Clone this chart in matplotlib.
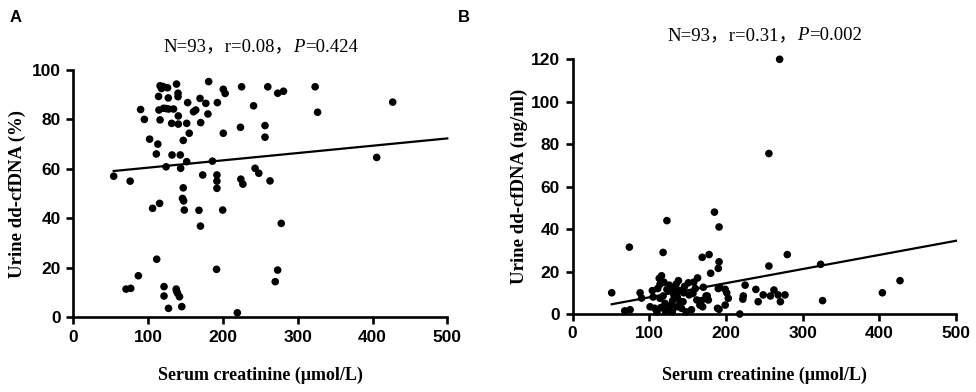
import numpy as np
import matplotlib
matplotlib.use('Agg')
import matplotlib.pyplot as plt

# ---------------- data ----------------
a_creat = [54, 76, 90, 95, 102, 111, 113,
           116, 120, 126, 114, 127, 138, 140, 140,
           114.5, 120.7, 127.4, 134, 140.4, 152.9, 160.7, 163.7, 169.4, 177.2, 181, 180, 192.6,
           116, 131.5, 140.4, 151.6, 170.3, 155, 147, 132, 143, 124, 143.5, 151.6, 186, 173, 147, 192, 192, 192,
           200.5, 203, 225, 260, 273.3, 281, 323.3, 326.6, 427, 241, 200.5, 223.5, 256.3, 256.3, 405.6, 224,
           226.7, 243, 248, 263, 199.7, 278, 191.5, 273.2, 270, 219.3,
           106, 115.4, 147.5, 148.4, 168, 170, 111.5, 87, 70.5, 76.8, 121.3, 121.3, 137.6, 139.4, 142, 127.3, 145,
           118, 124, 146, 138]
a_ddcf = [57, 55, 84, 80, 72, 66, 70,
          93.6, 93.3, 92.8, 89.3, 88.7, 94.3, 90.6, 89.2,
          83.8, 84.5, 84.2, 84.2, 81.4, 86.8, 83.1, 83.8, 88.5, 86.5, 95.3, 82.2, 86.8,
          79.8, 78.4, 78.1, 78.4, 78.7, 74.4, 71.5, 65.6, 65.6, 60.8, 60.2, 62.9, 63.1, 57.5, 52.3, 57.5, 55, 52.1,
          92.2, 90.5, 93.2, 93.2, 90.6, 91.4, 93.2, 82.9, 87, 85.5, 74.4, 76.8, 77.5, 72.8, 64.6, 55.8,
          53.8, 60.2, 58.2, 55.1, 43.3, 37.9, 19.3, 19, 14.3, 1.7,
          44, 46, 47, 43.3, 43.2, 36.8, 23.4, 16.7, 11.3, 11.6, 12.3, 8.5, 11.3, 9.6, 8.2, 3.5, 4.2,
          92.5, 84.4, 48, 10.5]

b_creat = [270, 256, 123, 185, 191, 74, 118, 169, 178, 191, 190, 180, 256,
           51, 88, 90, 68, 75, 113, 116, 114, 119, 126, 128, 123, 133.5, 140, 138, 151,
           101, 107, 120.5, 130.5, 136.5, 142, 144, 136, 114, 118, 152, 157, 162, 166,
           174, 177, 170.5, 189, 190, 280, 323.5, 326, 192, 199, 201, 203, 199, 191,
           168, 175.6, 169.6, 218, 225, 222.6, 222, 239, 242, 248.6, 258, 262.6, 268, 277, 271,
           404, 427,
           105, 110, 115, 125, 130, 132, 140, 145, 148, 155, 160, 121, 128, 135, 111, 146, 158, 104, 163]
b_ddcf = [120, 75.6, 44, 48, 41, 31.5, 29, 26.7, 28, 24.6, 21.5, 19.2, 22.6,
          10, 10, 7.5, 1.5, 2, 16.8, 18, 14, 15, 13.6, 11.3, 11.6, 12, 11, 15.7, 14.7,
          3.4, 2.7, 5, 6.3, 8, 2.7, 5.8, 3.4, 7.4, 8.5, 9, 9.7, 6.6, 4.2,
          8.5, 6.6, 12.6, 2.7, 12, 28, 23.4, 6.3, 12.6, 11.6, 10, 7.4, 4.2, 2.2,
          6.3, 8.5, 3.4, 0, 13.6, 8.5, 7, 11.6, 5.8, 9, 8.5, 11.3, 9, 9, 5.8,
          10, 15.7,
          8, 1, 3, 2, 1, 9, 6, 10, 1, 2, 12, 1.5, 4, 14, 12, 13, 15, 11, 17]

fit_a = (57.5, 0.0296)   # intercept, slope
fit_b = (1.2, 0.0666)

x_ticks = [0, 100, 200, 300, 400, 500]
y_ticks_a = [0, 20, 40, 60, 80, 100]
y_ticks_b = [0, 20, 40, 60, 80, 100, 120]

title_a = ["N=93，r=0.08，", "P", "=0.424"]
title_b = ["N=93，r=0.31，", "P", "=0.002"]
ylabel_a = "Urine dd-cfDNA (%)"
ylabel_b = "Urine dd-cfDNA (ng/ml)"
xlabel = "Serum creatinine (μmol/L)"

# ---------------- figure ----------------
W, H = 976, 392
fig = plt.figure(figsize=(W / 100, H / 100), dpi=100)

def px_axes(l, r, t, b):
    return fig.add_axes([l / W, 1 - b / H, (r - l) / W, (b - t) / H])

axA = px_axes(73.3, 447.3, 70, 317)
axB = px_axes(572.6, 956, 59.3, 314)

serif = ['Liberation Serif', 'Noto Sans CJK SC']
sans = 'Liberation Sans'

def style(ax, x, y, fit, yticks, ylab, ylx, xly):
    ax.scatter(x, y, s=30, color='black', edgecolors='none', clip_on=False, zorder=3)
    xs = np.array([min(x), 500])
    ax.plot(xs, fit[0] + fit[1] * xs, color='black', lw=1.6, clip_on=False, zorder=2)
    ax.set_xlim(0, 500)
    ax.set_ylim(yticks[0], yticks[-1])
    ax.set_xticks(x_ticks)
    ax.set_yticks(yticks)
    for s in ['top', 'right']:
        ax.spines[s].set_visible(False)
    for s in ['left', 'bottom']:
        ax.spines[s].set_linewidth(1.9)
    ax.tick_params(axis='both', length=5, width=1.9, direction='out', pad=4)
    for lab in ax.get_xticklabels() + ax.get_yticklabels():
        lab.set_fontfamily(sans)
        lab.set_fontweight('bold')
        lab.set_fontsize(12.5)
    ax.set_ylabel(ylab, family=serif, fontweight='bold', fontsize=13.5)
    ax.set_xlabel(xlabel, family=serif, fontweight='bold', fontsize=13)
    ax.yaxis.set_label_coords(ylx, 0.5)
    ax.xaxis.set_label_coords(0.5, xly)

style(axA, a_creat, a_ddcf, fit_a, y_ticks_a, ylabel_a, -0.127, -0.20)
style(axB, b_creat, b_ddcf, fit_b, y_ticks_b, ylabel_b, -0.117, -0.205)

def title(ax, parts, y_px):
    t1 = fig.text(0, 1 - y_px / H, parts[0], family=serif, fontsize=13.5, va='center', ha='left')
    t2 = fig.text(0, 0, parts[1], family=serif, style='italic', fontsize=13.5)
    t3 = fig.text(0, 0, parts[2], family=serif, fontsize=13.5)
    fig.canvas.draw()
    r = fig.canvas.get_renderer()
    b1 = t1.get_window_extent(r)
    b2 = t2.get_window_extent(r)
    b3 = t3.get_window_extent(r)
    total = b1.width + b2.width + b3.width
    pos = ax.get_position()
    cx = (pos.x0 + pos.x1) / 2 * W
    x0 = cx - total / 2
    y = 1 - y_px / H
    t1.set_position((x0 / W, y))
    t2.set_position(((x0 + b1.width) / W, y))
    t2.set_va('center')
    t3.set_position(((x0 + b1.width + b2.width) / W, y))
    t3.set_va('center')

title(axA, title_a, 47)
title(axB, title_b, 36)

fig.text(10 / W, 1 - 18 / H, "A", family=sans, fontweight='bold', fontsize=12, va='center', ha='left')
fig.text(458 / W, 1 - 18 / H, "B", family=sans, fontweight='bold', fontsize=12, va='center', ha='left')

fig.savefig('out.png', dpi=100)
